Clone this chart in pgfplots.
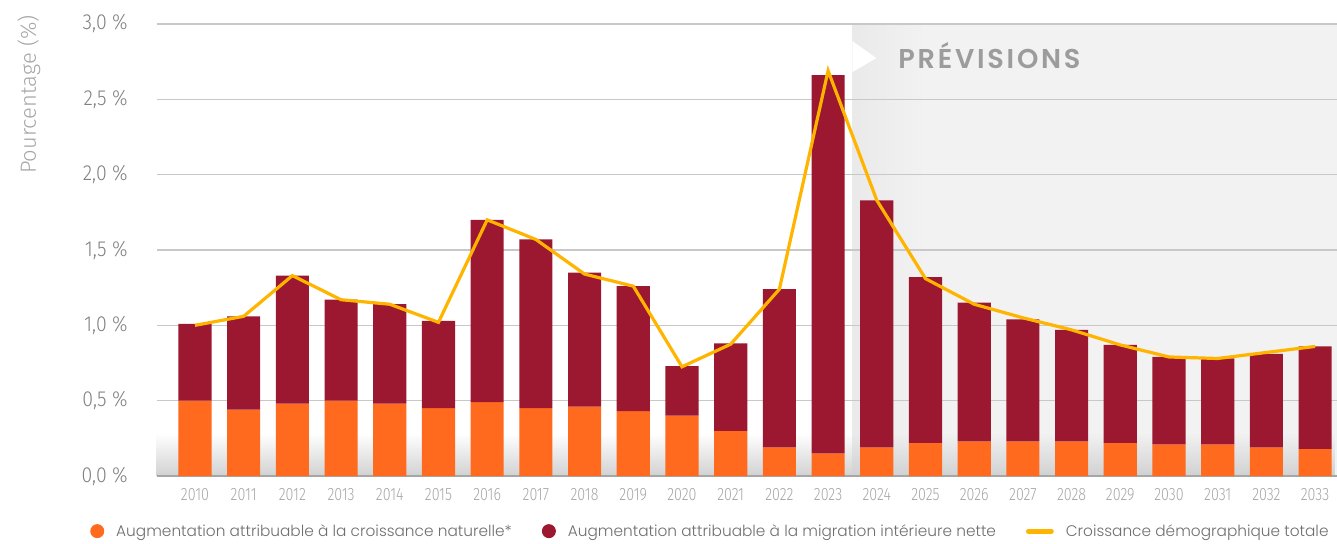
\documentclass[border=0pt]{standalone}
\usepackage{fontspec}
\setmainfont{Poppins}[UprightFont=* Light, BoldFont=* SemiBold]
\newfontfamily\tickfont{Fira Sans Light}[FakeStretch=0.8]
\newfontfamily\ytickfont{Fira Sans Light}[FakeStretch=0.9]
\newfontfamily\labelfont{Fira Sans Light}
\newfontfamily\prevfont{Poppins SemiBold}[LetterSpace=10]
\usepackage{pgfplots}
\usepackage{pgfplotstable}
\pgfplotsset{compat=1.18}
\usetikzlibrary{fadings}

\definecolor{natorange}{HTML}{FF6A1F}
\definecolor{migred}{HTML}{9B1830}
\definecolor{totyellow}{HTML}{FFB400}
\definecolor{gridgray}{HTML}{C8C8C8}
\definecolor{tickgray}{HTML}{808080}
\definecolor{yeargray}{HTML}{A6A6A6}
\definecolor{leggray}{HTML}{6E6E6E}
\definecolor{prevgray}{HTML}{9C9C9C}

\pgfdeclarehorizontalshading{prevshade}{100bp}{color(0bp)=(black!20); color(20bp)=(black!9); color(50bp)=(black!5); color(100bp)=(black!5)}

% croissance naturelle, migration interieure nette, croissance totale (%)
\pgfplotstableread{
year nat  mig  tot
2010 0.50 0.51 1.00
2011 0.44 0.62 1.06
2012 0.48 0.85 1.33
2013 0.50 0.67 1.17
2014 0.48 0.66 1.14
2015 0.45 0.58 1.02
2016 0.49 1.21 1.70
2017 0.45 1.12 1.57
2018 0.46 0.89 1.34
2019 0.43 0.83 1.26
2020 0.40 0.33 0.725
2021 0.30 0.58 0.875
2022 0.19 1.05 1.24
2023 0.15 2.51 2.69
2024 0.19 1.64 1.83
2025 0.22 1.10 1.31
2026 0.23 0.92 1.14
2027 0.23 0.81 1.05
2028 0.23 0.74 0.97
2029 0.22 0.65 0.87
2030 0.21 0.58 0.79
2031 0.21 0.57 0.78
2032 0.19 0.62 0.82
2033 0.18 0.68 0.86
}\popdata

\pgfplotsset{frame/.style={scale only axis, width=885pt, height=339pt,
    xmin=2009.22, xmax=2033.45, ymin=0, ymax=3}}

\begin{document}
\begin{tikzpicture}
% background: forecast zone and floor shadow
\begin{axis}[frame, hide axis, clip=false]
    \fill[black!5] (axis cs:2023.5,0) rectangle (axis cs:2033.45,3);
    \shade[shading=prevshade] (axis cs:2023.5,0) rectangle (axis cs:2026.6,3);
    \fill[white] (axis cs:2023.5,2.886) -- (axis cs:2023.99,2.774) -- (axis cs:2023.5,2.681) -- cycle;
    \fill[black!18, path fading=north] (axis cs:2009.22,0) rectangle (axis cs:2033.45,0.28);
\end{axis}

\begin{axis}[
    frame,
    name=ax,
    ybar stacked,
    reverse stacked plots=false,
    bar width=0.68,
    xtick=data,
    ytick={0,0.5,1,1.5,2,2.5,3},
    yticklabels={{0,0 \%},{0,5 \%},{1,0 \%},{1,5 \%},{2,0 \%},{2,5 \%},{3,0 \%}},
    /pgf/number format/assume math mode=true,
    /pgf/number format/1000 sep={},
    x tick label style={font=\tickfont\fontsize{13.4}{14}\selectfont, text=yeargray,
        anchor=north, inner sep=0pt, yshift=-9pt},
    y tick label style={font=\ytickfont\fontsize{16.3}{17}\selectfont, text=tickgray,
        anchor=east, inner sep=0pt, xshift=-21.75pt},
    major tick length=0pt,
    ymajorgrids,
    grid style={gridgray, line width=1.1pt},
    axis lines*=left,
    y axis line style={draw=none},
    x axis line style={black!35, line width=1.5pt},
    legend columns=3,
    legend cell align=left,
    legend style={at={(-0.0568,-0.122)}, anchor=west, draw=none, fill=none,
        inner sep=0pt, text=leggray, font=\fontsize{11.5}{13}\selectfont,
        /tikz/every odd column/.append style={column sep=7pt},
        /tikz/every even column/.append style={column sep=20.5pt}},
]
\addplot[fill=natorange, draw=none,
    legend image code/.code={\fill[natorange] (5.25pt,0pt) circle (5.25pt);}]
    table[x=year, y=nat] {\popdata};
\addlegendentry{Augmentation attribuable à la croissance naturelle*}

\addplot[fill=migred, draw=none,
    legend image code/.code={\fill[migred] (5.25pt,0pt) circle (5.25pt);}]
    table[x=year, y=mig] {\popdata};
\addlegendentry{Augmentation attribuable à la migration intérieure nette}

\addplot[sharp plot, stack plots=false, totyellow, line width=2.4pt, mark=none,
    legend image code/.code={\draw[totyellow, line width=3.75pt, line cap=round] (1.9pt,0pt) -- (19pt,0pt);}]
    table[x=year, y=tot] {\popdata};
\addlegendentry{Croissance démographique totale}

\node[anchor=base west, inner sep=0pt, text=prevgray,
    font=\prevfont\fontsize{20.4}{22}\selectfont] at (axis cs:2024.44,2.707) {PRÉVISIONS};
\end{axis}

\node[rotate=90, anchor=east, inner sep=0pt, text=yeargray,
    font=\labelfont\fontsize{16.5}{18}\selectfont] at ([xshift=-96pt, yshift=6.75pt]ax.north west) {Pourcentage (\%)};

\pgfresetboundingbox
\path[use as bounding box] ([xshift=-117.75pt, yshift=-50.25pt]ax.south west) rectangle ([yshift=18pt]ax.north east);
\end{tikzpicture}
\end{document}
